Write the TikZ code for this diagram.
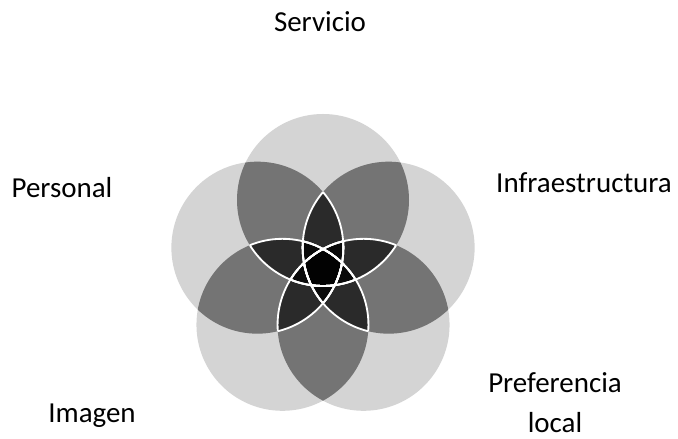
\documentclass[tikz,border=0pt]{standalone}
\usepackage{fontspec}
\setmainfont{Carlito}

\begin{document}
\begin{tikzpicture}[x=0.025cm, y=0.025cm]
            \tikzset{petalo/.style={fill=black, fill opacity=.17, draw=none},
            cruce/.style={fill=black, fill opacity=.34, draw=none},
            borde/.style={draw=white, line width=1.3pt},
            etiqueta/.style={font=\fontsize{20.6}{29}\selectfont, anchor=base, inner sep=0pt}}

            \useasboundingbox (0,0) rectangle (678,439);

            \def\dd{69}
            \def\rr{86}

            \begin{scope}[shift={(323,170)}]
                \foreach \i in {0,...,4}
                    \fill[petalo] (90+72*\i:\dd) circle (\rr);
                \foreach \a/\b in {0/1,0/2,0/3,0/4,1/2,1/3,1/4,2/3,2/4,3/4} {
                    \begin{scope}
                        \clip (90+72*\a:\dd) circle (\rr);
                        \fill[cruce] (90+72*\b:\dd) circle (\rr);
                    \end{scope}
                }
                \foreach \i in {0,...,4}
                    \foreach \a/\b in {1/2,1/3,1/4,2/3,2/4,3/4} {
                        \begin{scope}
                            \clip (90+72*\i+72*\a:\dd) circle (\rr);
                            \clip (90+72*\i+72*\b:\dd) circle (\rr);
                            \draw[borde] (90+72*\i:\dd) circle (\rr);
                        \end{scope}
                    }
            \end{scope}

            \node[etiqueta] (servicio) at (320,407) {Servicio};
            \node[etiqueta] (personal) at (62,241) {Personal};
            \node[etiqueta] (infraestructura) at (584,246) {Infraestructura};
            \node[etiqueta, align=center] (preferencia) at (555,6) {Preferencia\\local};
            \node[etiqueta] (imagen) at (92,16) {Imagen};
        \end{tikzpicture}
\end{document}
